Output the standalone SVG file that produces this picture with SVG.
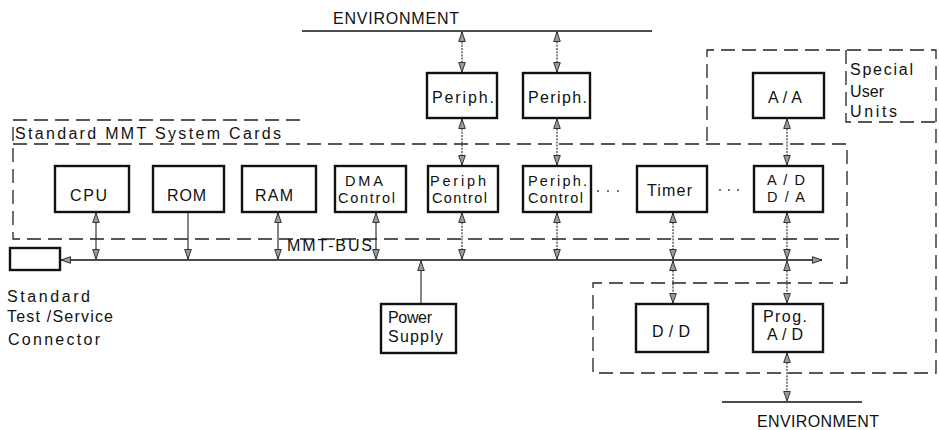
<svg xmlns="http://www.w3.org/2000/svg" width="939" height="430" viewBox="0 0 939 430">
<style>
  .box { fill: #fff; stroke: #111; stroke-width: 2.4; }
  .dash { fill: none; stroke: #222; stroke-width: 1.3; stroke-dasharray: 14 7; }
  .t { font-family: "Liberation Sans", Arial, sans-serif; font-size: 16px; fill: #111; }
  .t2 { font-family: "Liberation Sans", Arial, sans-serif; font-size: 14.5px; fill: #111; }
  .env { stroke: #111; stroke-width: 1.4; fill: none; }
  .bus { stroke: #111; stroke-width: 1.4; fill: none; marker-start: url(#ah); marker-end: url(#ah); }
  .bi { stroke: #222; stroke-width: 1.1; fill: none; marker-start: url(#ah); marker-end: url(#ah); }
  .bid { stroke: #222; stroke-width: 1.1; fill: none; stroke-dasharray: 2 1.2; marker-start: url(#ah); marker-end: url(#ah); }
  .uni { stroke: #222; stroke-width: 1.1; fill: none; marker-end: url(#ah); }
  .dot { fill: #333; }
</style>
<defs>
  <marker id="ah" markerUnits="userSpaceOnUse" markerWidth="11" markerHeight="8" viewBox="0 0 11 8" refX="10" refY="4" orient="auto-start-reverse">
    <path d="M0.5,0.7 L10,4 L0.5,7.3 z" fill="#9a9a9a" stroke="#222" stroke-width="0.9"/>
  </marker>
</defs>

<g id="boundaries">
  <path class="dash" d="M300,120 H13 V239 H847"/>
  <path class="dash" d="M13,144 H847 V283 H593 V373 H936 V50 H707 V144"/>
  <path class="dash" d="M846,50 V122 H936"/>
  <text class="t" x="15" y="139" textLength="266">Standard MMT System Cards</text>
  <text class="t" x="850" y="75" textLength="63">Special</text>
  <text class="t" x="850" y="97" textLength="34">User</text>
  <text class="t" x="850" y="117" textLength="47">Units</text>
</g>

<g id="environment-top">
  <line class="env" x1="302" y1="31" x2="652" y2="31"/>
  <text class="t" x="333" y="24" font-size="15" textLength="126">ENVIRONMENT</text>
</g>
<g id="environment-bottom">
  <line class="env" x1="722" y1="402" x2="862" y2="402"/>
  <text class="t" x="757" y="427" font-size="15" textLength="122">ENVIRONMENT</text>
</g>

<g id="periph1">
  <rect class="box" x="427" y="73" width="70" height="45"/>
  <text class="t" x="432" y="103" textLength="62">Periph.</text>
</g>
<g id="periph2">
  <rect class="box" x="523" y="73" width="67" height="45"/>
  <text class="t" x="528" y="103" textLength="59">Periph.</text>
</g>
<g id="aa">
  <rect class="box" x="753" y="73" width="71" height="45"/>
  <text class="t" x="768" y="103" textLength="34">A/A</text>
</g>

<g id="cpu">
  <rect class="box" x="55" y="166" width="74" height="46"/>
  <text class="t" x="70" y="201" textLength="37">CPU</text>
</g>
<g id="rom">
  <rect class="box" x="153" y="166" width="71" height="46"/>
  <text class="t" x="167" y="201" textLength="39">ROM</text>
</g>
<g id="ram">
  <rect class="box" x="242" y="166" width="74" height="46"/>
  <text class="t" x="255" y="201" textLength="38">RAM</text>
</g>
<g id="dma">
  <rect class="box" x="335" y="166" width="71" height="46"/>
  <text class="t2" x="345" y="186" textLength="38">DMA</text>
  <text class="t2" x="338" y="203" textLength="57">Control</text>
</g>
<g id="periph-control1">
  <rect class="box" x="428" y="166" width="70" height="46"/>
  <text class="t2" x="430" y="186" textLength="56">Periph</text>
  <text class="t2" x="432" y="203" textLength="55">Control</text>
</g>
<g id="periph-control2">
  <rect class="box" x="523" y="166" width="68" height="46"/>
  <text class="t2" x="528" y="186" textLength="59">Periph.</text>
  <text class="t2" x="528" y="203" textLength="55">Control</text>
</g>
<g id="timer">
  <rect class="box" x="637" y="166" width="70" height="46"/>
  <text class="t" x="647" y="196" textLength="45">Timer</text>
</g>
<g id="adda">
  <rect class="box" x="754" y="166" width="69" height="46"/>
  <text class="t2" x="767" y="185" textLength="38">A / D</text>
  <text class="t2" x="767" y="202" textLength="38">D / A</text>
</g>
<g id="ellipses">
  <circle class="dot" cx="598" cy="191" r="0.9"/>
  <circle class="dot" cx="608" cy="191" r="0.9"/>
  <circle class="dot" cx="618" cy="191" r="0.9"/>
  <circle class="dot" cx="720" cy="190" r="0.9"/>
  <circle class="dot" cx="729" cy="190" r="0.9"/>
  <circle class="dot" cx="738" cy="190" r="0.9"/>
</g>

<g id="connector">
  <rect class="box" x="10" y="248" width="50" height="22"/>
  <text class="t" x="7" y="302" textLength="83">Standard</text>
  <text class="t" x="7" y="322" textLength="106">Test /Service</text>
  <text class="t" x="8" y="345" textLength="92">Connector</text>
</g>

<g id="power-supply">
  <rect class="box" x="381" y="304" width="75" height="49"/>
  <text class="t" x="388" y="323" textLength="44">Power</text>
  <text class="t" x="388" y="342" textLength="55">Supply</text>
</g>
<g id="dd">
  <rect class="box" x="636" y="304" width="72" height="48"/>
  <text class="t" x="652" y="337" textLength="38">D / D</text>
</g>
<g id="prog-ad">
  <rect class="box" x="753" y="304" width="70" height="48"/>
  <text class="t" x="763" y="322" textLength="44">Prog.</text>
  <text class="t" x="767" y="340" textLength="36">A / D</text>
</g>

<g id="bus">
  <line class="bus" x1="61" y1="260" x2="822" y2="260"/>
  <text class="t" x="287" y="251" textLength="85">MMT-BUS</text>
</g>

<g id="connectors">
  <line class="bid" x1="462" y1="32" x2="462" y2="72"/>
  <line class="bid" x1="557" y1="32" x2="557" y2="72"/>
  <line class="bid" x1="462" y1="119" x2="462" y2="165"/>
  <line class="bid" x1="557" y1="119" x2="557" y2="165"/>
  <line class="bid" x1="787" y1="119" x2="787" y2="165"/>
  <line class="bi" x1="96" y1="213" x2="96" y2="259"/>
  <line class="uni" x1="188" y1="213" x2="188" y2="259"/>
  <line class="bi" x1="278" y1="213" x2="278" y2="259"/>
  <line class="bi" x1="376" y1="213" x2="376" y2="259"/>
  <line class="bid" x1="462" y1="213" x2="462" y2="259"/>
  <line class="bid" x1="557" y1="213" x2="557" y2="259"/>
  <line class="bid" x1="673" y1="213" x2="673" y2="259"/>
  <line class="bid" x1="787" y1="213" x2="787" y2="259"/>
  <line class="bid" x1="673" y1="261" x2="673" y2="303"/>
  <line class="bid" x1="787" y1="261" x2="787" y2="303"/>
  <line class="bid" x1="787" y1="353" x2="787" y2="401"/>
  <line class="uni" x1="421" y1="303" x2="421" y2="261"/>
</g>
</svg>
